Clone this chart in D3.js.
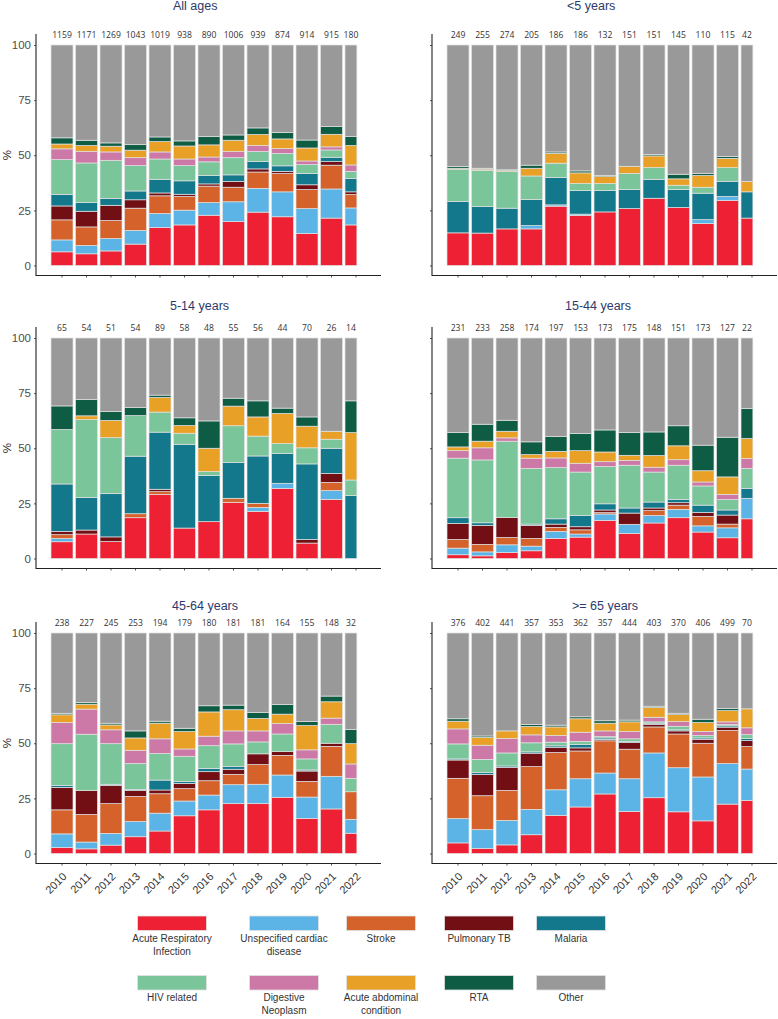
<!DOCTYPE html>
<html><head><meta charset="utf-8">
<script src="https://cdn.jsdelivr.net/npm/d3@7"></script>
<style>body{margin:0;background:#fff}svg{display:block}</style>
</head><body>
<svg id="chart" width="778" height="1019"></svg>
<script>
const years = ["2010","2011","2012","2013","2014","2015","2016","2017","2018","2019","2020","2021","2022"];
const categories = ["Acute Respiratory Infection","Unspecified cardiac disease","Stroke","Pulmonary TB","Malaria","HIV related","Digestive Neoplasm","Acute abdominal condition","RTA","Other"];
const legendLines = [["Acute Respiratory","Infection"],["Unspecified cardiac","disease"],["Stroke"],["Pulmonary TB"],["Malaria"],["HIV related"],["Digestive","Neoplasm"],["Acute abdominal","condition"],["RTA"],["Other"]];
const colors = ["#EE2033","#5BB4E5","#D5622A","#710F14","#14788C","#7BC59B","#CC79A7","#E8A126","#0F5C45","#999999"];
const panelTitles = ["All ages","<5 years","5-14 years","15-44 years","45-64 years",">= 65 years"];
const yTicks = [0,25,50,75,100];

const countsAll   = [1159,1171,1269,1043,1019,938,890,1006,939,874,914,915,180];
const countsU5    = [249,255,274,205,186,186,132,151,151,145,110,115,42];
const counts5to14 = [65,54,51,54,89,58,48,55,56,44,70,26,14];
const counts15to44= [231,233,258,174,197,153,173,175,148,151,173,127,22];
const counts45to64= [238,227,245,253,194,179,180,181,181,164,155,148,32];
const counts65    = [376,402,441,357,353,362,357,444,403,370,406,499,70];

// shares (%) per category (rows in categories order), per year (columns)
const sharesAll = [
 [6.2,5.3,6.6,9.7,17.2,18.4,22.8,19.9,24.2,22.1,14.5,21.5,18.4],
 [5.4,3.8,5.6,6.2,6.4,6.7,5.7,9.0,10.8,11.3,11.3,13.2,7.7],
 [9.1,8.4,8.2,10.1,8.0,6.2,7.5,6.6,7.4,8.3,8.6,10.8,6.1],
 [6.3,7.1,6.9,3.8,1.3,1.0,1.0,2.6,1.4,1.0,2.2,1.6,1.2],
 [5.2,3.9,3.1,4.0,6.2,6.1,3.8,3.0,3.3,2.5,5.2,2.0,6.0],
 [15.8,18.0,17.3,11.5,9.2,6.9,6.2,7.8,4.6,5.6,4.0,3.3,3.3],
 [4.9,5.3,3.8,3.6,3.2,3.0,2.2,2.8,2.7,2.2,1.6,1.4,2.9],
 [2.2,2.6,2.6,3.4,4.7,5.9,5.5,5.1,5.0,4.4,5.9,5.7,8.8],
 [2.8,2.4,1.5,2.5,2.1,2.3,3.8,2.4,3.0,2.9,3.6,3.5,4.1],
 [42.1,43.2,44.4,45.2,41.7,43.5,41.5,40.8,37.6,39.7,43.1,37.0,41.5]
];
const sharesU5 = [
 [14.8,14.7,16.6,16.6,26.9,22.7,24.3,25.8,30.5,26.3,19.0,29.5,21.5],
 [0,0,0,1.5,0.6,0.6,0,0,0,0,1.8,1.8,0],
 [0,0,0,0,0,0,0,0,0,0,0,0,0],
 [0,0,0,0,0,0,0,0,0,0,0,0,0],
 [14.2,12.0,9.4,11.8,12.4,10.7,9.7,8.6,8.6,8.1,12.0,6.9,11.9],
 [14.7,16.5,16.6,10.7,6.5,3.2,3.2,7.4,5.3,2.0,2.7,6.2,0],
 [0,0,0,0,0,0,0,0,0,0,0,0,0],
 [0.4,0.5,0.5,3.5,4.5,4.8,3.1,3.2,5.3,2.9,5.3,4.2,4.7],
 [0.8,0.4,0.3,1.4,0.6,0.9,0.6,0,0.6,2.1,1.0,0.9,0],
 [55.1,55.9,56.6,54.5,48.5,57.1,59.1,55.0,49.7,58.6,58.2,50.5,61.9]
];
const shares5to14 = [
 [7.6,11.1,7.7,18.5,29.1,13.8,16.7,25.5,21.4,31.8,7.0,26.8,0],
 [1.5,0,0,0,0,0,0,0,1.8,2.3,0,4.0,0],
 [1.7,0,0,1.8,1.2,0,0,1.8,1.8,0,0,3.7,0],
 [1.5,1.8,2.1,0,1.1,0,0,0,0,0,1.6,4.0,0],
 [21.5,14.8,19.6,26.1,25.9,38.0,20.9,16.3,21.5,13.6,34.3,11.5,28.5],
 [24.7,35.3,25.4,18.4,9.1,5.0,1.8,16.6,9.0,4.4,7.3,4.1,7.1],
 [0,0,0,0,0,0,0,0,0,0,0,0,0],
 [0,1.7,7.8,0,6.6,3.5,10.6,8.9,8.7,13.7,9.8,3.6,21.5],
 [10.7,7.4,4.1,3.7,1.1,3.5,12.4,3.6,7.3,2.4,4.2,0,14.4],
 [30.8,27.9,33.3,31.5,25.9,36.2,37.6,27.3,28.5,31.8,35.8,42.3,28.5]
];
const shares15to44 = [
 [1.7,1.2,2.7,3.5,9.1,9.7,17.3,11.4,16.1,18.5,12.0,9.4,18.0],
 [3.0,1.8,3.5,2.1,3.2,1.4,2.9,4.1,3.4,3.8,2.8,4.5,9.3],
 [3.9,3.4,3.3,3.5,1.8,1.9,0.6,0,2.2,1.9,4.3,1.7,0],
 [7.3,8.6,9.1,5.9,1.5,1.4,1.2,5.1,1.2,1.1,1.8,4.1,0],
 [2.6,1.2,0,0.6,2.4,5.1,2.8,2.3,2.7,1.4,3.3,2.3,4.4],
 [27.0,28.5,34.6,25.3,23.2,19.7,16.9,19.4,13.6,15.6,8.7,4.7,9.2],
 [3.4,5.5,1.5,4.6,4.4,4.0,2.2,2.2,2.2,2.5,1.8,2.4,4.4],
 [1.7,3.0,3.0,1.6,3.0,5.7,4.4,2.3,5.3,6.3,5.1,7.9,9.1],
 [6.5,7.7,5.0,5.8,6.7,7.8,10.0,10.3,10.7,9.1,11.6,18.0,13.6],
 [42.9,39.1,37.3,47.1,44.7,43.3,41.7,42.9,42.6,39.8,48.6,45.0,32.0]
];
const shares45to64 = [
 [2.7,2.1,3.8,7.6,10.2,17.1,19.8,22.6,22.6,25.5,15.9,20.2,9.2],
 [6.2,3.1,5.3,6.9,8.1,6.7,6.7,8.6,8.8,10.1,9.7,14.8,6.3],
 [10.9,12.5,13.5,11.4,8.8,5.6,6.5,4.7,8.9,8.9,7.1,13.6,12.5],
 [10.2,10.8,8.3,2.7,1.7,2.4,4.1,2.3,4.9,1.7,4.7,1.4,0],
 [0.9,0,0.5,0.5,4.5,0.9,1.5,1.3,0,0,0.5,0,0],
 [18.9,25.6,18.4,11.7,12.0,11.4,10.3,10.2,5.4,8.0,5.0,8.6,6.1],
 [9.6,11.4,6.3,6.0,6.7,3.3,4.3,5.9,5.0,4.7,4.1,2.8,6.5],
 [3.5,2.2,2.2,5.6,7.1,7.9,11.0,9.6,5.6,4.3,11.0,7.4,9.2],
 [0.7,0.8,0.8,3.2,0.9,1.5,2.8,2.1,2.7,4.4,1.8,2.6,6.4],
 [36.4,31.5,40.9,44.4,40.0,43.2,33.0,32.7,36.1,32.4,40.2,28.6,43.8]
];
const shares65 = [
 [4.8,2.3,3.9,8.5,17.3,21.1,27.0,19.1,25.3,18.9,14.8,22.4,24.1],
 [11.0,8.5,11.1,11.5,11.6,12.8,9.5,14.8,20.3,20.0,19.9,18.4,14.2],
 [18.3,15.4,13.6,19.4,16.9,12.6,14.6,13.4,11.8,15.3,15.3,15.0,10.2],
 [8.3,9.6,10.5,6.1,2.2,1.4,0.6,3.0,1.2,1.4,1.8,1.5,2.7],
 [0.5,0.9,0.6,0.6,0.8,1.5,0.7,0.5,0.5,0.5,0.6,0.6,0.9],
 [6.8,6.0,5.9,4.1,1.7,1.4,0.6,1.2,0.6,1.6,1.1,0.6,1.8],
 [6.8,6.4,6.5,3.6,3.0,4.2,2.6,3.3,2.1,2.1,1.8,1.2,3.1],
 [3.5,3.5,3.5,3.8,3.9,6.1,3.5,4.4,4.4,3.2,4.1,5.1,8.6],
 [1.1,0.7,0,0.9,0.8,0.9,1.1,0.8,0.6,0.6,1.5,1.0,0],
 [38.9,46.7,44.4,41.5,41.8,38.0,39.8,39.5,33.2,36.4,39.1,34.2,34.4]
];

const panelShares = [sharesAll, sharesU5, shares5to14, shares15to44, shares45to64, shares65];
const panelCounts = [countsAll, countsU5, counts5to14, counts15to44, counts45to64, counts65];

// ---------- layout ----------
const colOffset = [0, 396];
const rowTop = [45, 338, 633];
const plotH = 220.5;
const titleX = [173, 171, 170, 169, 172, 176];
const partialFrac = 0.54; // 2022 bar drawn narrower (partial year)
const svg = d3.select("#chart");
const font = "'Liberation Sans', Arial, sans-serif";
const countFont = "'Open Sans', 'Liberation Sans', sans-serif";

panelShares.forEach((shares, i) => {
  const col = i % 2, row = Math.floor(i / 2);
  const ox = colOffset[col], top = rowTop[row], bottom = top + plotH;
  const g = svg.append("g");
  const x = d3.scaleBand().domain(years).range([ox + 51, ox + 367]).paddingInner(0.102).paddingOuter(0);
  const y = d3.scaleLinear().domain([0, 100]).range([bottom, top]);
  const table = years.map((yr, j) => {
    const o = {year: yr};
    categories.forEach((c, k) => o[c] = shares[k][j]);
    return o;
  });
  const series = d3.stack().keys(categories).offset(d3.stackOffsetExpand)(table);
  const bw = yr => yr === "2022" ? x.bandwidth() * partialFrac : x.bandwidth();

  g.selectAll("g.s").data(series).join("g").attr("fill", (d, k) => colors[k])
    .selectAll("rect").data(d => d).join("rect")
    .attr("x", d => x(d.data.year))
    .attr("width", d => bw(d.data.year))
    .attr("y", d => y(d[1] * 100))
    .attr("height", d => Math.max(0, y(d[0] * 100) - y(d[1] * 100)))
    .attr("stroke", "#e2e2e2").attr("stroke-width", 0.7);

  // counts
  g.selectAll("text.n").data(years).join("text")
    .attr("x", yr => x(yr) + bw(yr) / 2).attr("y", top - 7)
    .attr("text-anchor", "middle").attr("font-family", countFont).attr("font-size", 8.6)
    .attr("fill", "#333").text((yr, j) => panelCounts[i][j]);

  // title
  g.append("text").attr("x", ox + titleX[i]).attr("y", top - (row === 0 ? 35.5 : (row === 1 ? 28.5 : 23.5)))
    .attr("font-family", font).attr("font-size", 12.5).attr("fill", "#2d3a6c").text(panelTitles[i]);

  // y axis
  const ya = g.append("g").attr("transform", `translate(${ox + 36},0)`)
    .call(d3.axisLeft(y).tickValues(yTicks).tickSize(2).tickPadding(3)
      .tickFormat(col === 0 ? d3.format("d") : () => ""));
  ya.select(".domain").remove();
  ya.selectAll("line").attr("stroke", "#555");
  ya.selectAll("text").attr("font-family", font).attr("font-size", 11.5).attr("fill", "#4d4d4d");
  g.append("line").attr("x1", ox + 36).attr("x2", ox + 36).attr("y1", top - 11).attr("y2", bottom + 10.5)
    .attr("stroke", "#222").attr("stroke-width", 1.1);
  if (col === 0) {
    g.append("text").attr("transform", `translate(10.5,${(top + bottom) / 2}) rotate(-90)`)
      .attr("text-anchor", "middle").attr("font-family", font).attr("font-size", 11.5).attr("fill", "#222").text("%");
  }

  // x axis
  const xa = g.append("g").attr("transform", `translate(0,${bottom + 10})`)
    .call(d3.axisBottom(x).tickSize(2).tickFormat(row === 2 ? d => d : () => ""));
  xa.select(".domain").remove();
  xa.selectAll("line").attr("stroke", "#555");
  g.append("line").attr("x1", ox + 36).attr("x2", col === 0 ? ox + 381 : 777)
    .attr("y1", bottom + 10).attr("y2", bottom + 10).attr("stroke", "#222").attr("stroke-width", 1.1);
  if (row === 2) {
    xa.selectAll("text").attr("font-family", font).attr("font-size", 11).attr("fill", "#333")
      .attr("text-anchor", "end").attr("dy", "0.35em").attr("y", 0)
      .attr("transform", "translate(2.5,11) rotate(-45)");
  }
});

// ---------- legend ----------
const legCenters = [172, 284, 381, 479, 571];
const legRowY = [916, 975.5];
const leg = svg.append("g");
categories.forEach((c, k) => {
  const cx = legCenters[k % 5], ry = legRowY[Math.floor(k / 5)];
  leg.append("rect").attr("x", cx - 34.5).attr("y", ry).attr("width", 69).attr("height", 14.5)
    .attr("fill", colors[k]).attr("stroke", "#e2e2e2").attr("stroke-width", 0.8);
  const t = leg.append("text").attr("text-anchor", "middle").attr("font-family", font)
    .attr("font-size", 10).attr("fill", "#333");
  legendLines[k].forEach((line, li) => {
    t.append("tspan").attr("x", cx).attr("y", ry + 25.5 + li * 13).text(line);
  });
});
</script>
</body></html>
